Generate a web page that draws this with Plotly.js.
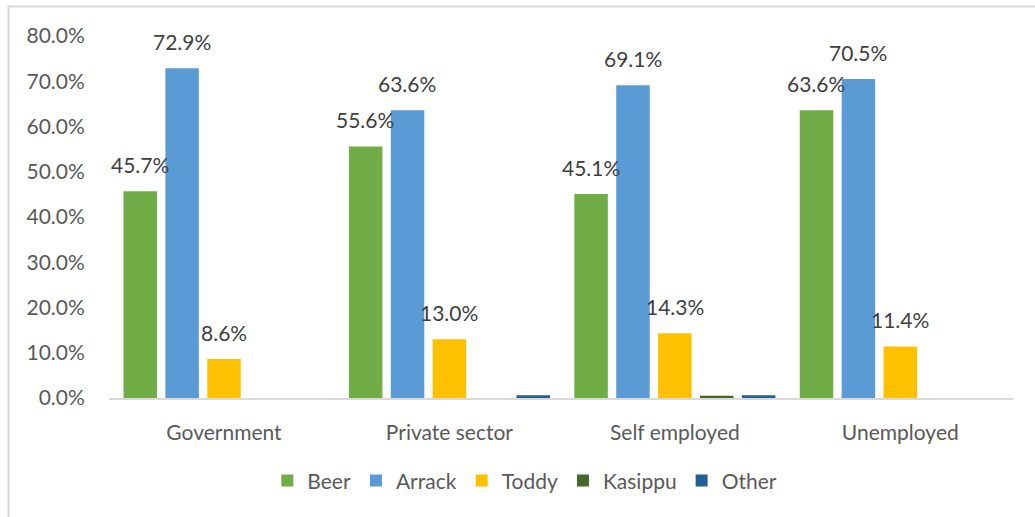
<!DOCTYPE html>
<html>
<head>
<meta charset="utf-8">
<script src="https://cdn.plot.ly/plotly-3.0.1.min.js"></script>
<style>
html,body{margin:0;padding:0;background:#fff;}
#chart{width:1035px;height:517px;}
</style>
</head>
<body>
<div id="chart"></div>
<script>
var categories = ["Government", "Private sector", "Self employed", "Unemployed"];
var seriesNames = ["Beer", "Arrack", "Toddy", "Kasippu", "Other"];
var beer    = [45.7, 55.6, 45.1, 63.6];
var arrack  = [72.9, 63.6, 69.1, 70.5];
var toddy   = [8.6, 13.0, 14.3, 11.4];
var kasippu = [0, 0, 0.5, 0];
var other   = [0, 0.6, 0.6, 0];
var labelled = [true, true, true, false, false];
var yTicks = [0, 10, 20, 30, 40, 50, 60, 70, 80];

var colors = ["#70AD47", "#5B9BD5", "#FFC000", "#43682B", "#255E91"];
var allSeries = [beer, arrack, toddy, kasippu, other];
var FONT = "Lato, 'Open Sans', sans-serif";

var traces = allSeries.map(function (vals, i) {
  return {
    type: "bar",
    name: seriesNames[i],
    x: categories,
    y: vals,
    marker: {color: colors[i]},
    hoverinfo: "x+y+name"
  };
});

var slot = 42;
var annotations = [];
allSeries.forEach(function (vals, i) {
  if (!labelled[i]) return;
  vals.forEach(function (v, j) {
    annotations.push({
      xref: "x", yref: "y",
      x: categories[j], y: v,
      text: v.toFixed(1) + "%",
      showarrow: false,
      xanchor: "center", yanchor: "bottom",
      xshift: (i - 2) * slot,
      yshift: 12,
      font: {family: FONT, size: 21, color: "#404040"}
    });
  });
});

var layout = {
  width: 1035, height: 517,
  margin: {l: 109, r: 22, t: 36, b: 119},
  paper_bgcolor: "#ffffff",
  plot_bgcolor: "#ffffff",
  barmode: "group",
  bargap: 0.071,
  bargroupgap: 0.2,
  showlegend: true,
  legend: {
    orientation: "h",
    x: 0.46, xanchor: "center",
    y: -0.229, yanchor: "middle",
    font: {family: FONT, size: 21, color: "#595959"},
    traceorder: "normal"
  },
  xaxis: {
    type: "category",
    showline: true, linecolor: "#D9D9D9", linewidth: 2,
    showgrid: false, zeroline: false,
    ticks: "outside", ticklen: 15, tickcolor: "rgba(0,0,0,0)",
    tickfont: {family: FONT, size: 21, color: "#595959"}
  },
  yaxis: {
    range: [0, 80],
    tickvals: yTicks,
    ticktext: yTicks.map(function (t) { return t.toFixed(1) + "%"; }),
    showline: false, showgrid: false, zeroline: false,
    ticks: "outside", ticklen: 19, tickcolor: "rgba(0,0,0,0)",
    tickfont: {family: FONT, size: 21, color: "#595959"}
  },
  annotations: annotations,
  shapes: [{
    type: "rect", xref: "paper", yref: "paper",
    x0: -0.1112, x1: 1.05, y0: -0.45, y1: 1.0815,
    line: {color: "#D9D9D9", width: 2},
    fillcolor: "rgba(0,0,0,0)", layer: "below"
  }]
};

Plotly.newPlot("chart", traces, layout, {displayModeBar: false, responsive: false});
</script>
</body>
</html>
